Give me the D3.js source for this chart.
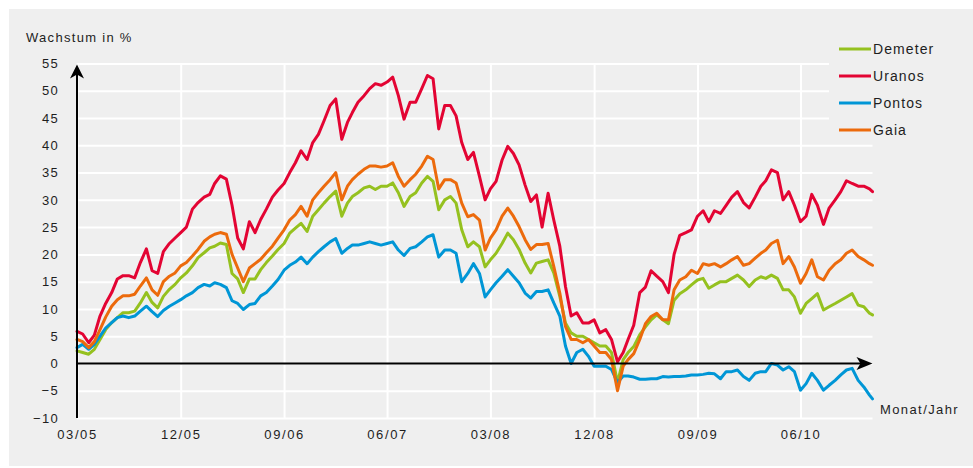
<!DOCTYPE html>
<html>
<head>
<meta charset="utf-8">
<script src="https://cdn.jsdelivr.net/npm/d3@7"></script>
<style>
  html, body { margin: 0; padding: 0; background: #ffffff; }
  svg { display: block; }
  text { font-family: "Liberation Sans", Arial, sans-serif; fill: #1e1e1e; }
</style>
</head>
<body>
<svg id="chart" width="973" height="468"></svg>
<script>
// ---- data ----
const dates = [
  "2005-03-01","2005-03-16","2005-04-01","2005-04-16","2005-05-01","2005-05-16","2005-06-01","2005-06-16","2005-07-01","2005-07-16",
  "2005-08-01","2005-08-16","2005-09-01","2005-09-16","2005-10-01","2005-10-16","2005-11-01","2005-11-16","2005-12-01","2005-12-16",
  "2006-01-01","2006-01-16","2006-02-01","2006-02-16","2006-03-01","2006-03-16","2006-04-01","2006-04-16","2006-05-01","2006-05-16","2006-06-01","2006-06-16",
  "2006-07-01","2006-07-16","2006-08-01","2006-08-16","2006-09-01","2006-09-16","2006-10-01","2006-10-16","2006-11-01","2006-11-16","2006-12-01","2006-12-16",
  "2007-01-01","2007-01-16","2007-02-01","2007-02-16","2007-03-01","2007-03-16","2007-04-01","2007-04-16","2007-05-01","2007-05-16","2007-06-01","2007-06-16",
  "2007-07-01","2007-07-16","2007-08-01","2007-08-16","2007-09-01","2007-09-16","2007-10-01","2007-10-16","2007-11-01","2007-11-16","2007-12-01","2007-12-16",
  "2008-01-01","2008-01-16","2008-02-01","2008-02-16","2008-03-01","2008-03-16","2008-04-01","2008-04-16","2008-05-01","2008-05-16","2008-06-01","2008-06-16",
  "2008-07-01","2008-07-16","2008-08-01","2008-08-16","2008-09-01","2008-09-16","2008-10-01","2008-10-16","2008-11-01","2008-11-16","2008-12-01","2008-12-16",
  "2009-01-01","2009-01-16","2009-02-01","2009-02-16","2009-03-01","2009-03-16","2009-04-01","2009-04-16","2009-05-01","2009-05-16","2009-06-01","2009-06-16",
  "2009-07-01","2009-07-16","2009-08-01","2009-08-16","2009-09-01","2009-09-16","2009-10-01","2009-10-16","2009-11-01","2009-11-16","2009-12-01","2009-12-16",
  "2010-01-01","2010-01-16","2010-02-01","2010-02-16","2010-03-01","2010-03-16","2010-04-01","2010-04-16","2010-05-01","2010-05-16","2010-06-01","2010-06-16",
  "2010-07-01","2010-07-16","2010-08-01","2010-08-16","2010-09-01","2010-09-16","2010-10-01","2010-10-16","2010-11-01","2010-11-16","2010-12-01","2010-12-09"
];

const demeter = [
  2.3, 2, 1.7, 2.6, 4.4, 6.2, 7.5, 8.4, 9.3, 9.3, 9.6, 11.1, 13, 11.2, 10.2, 12.3, 13.6, 14.5, 15.7, 16.6,
  17.9, 19.4, 20.3, 21.2, 21.5, 22.1, 21.8, 16.5, 15.5, 13, 15.5, 15.5, 17.2, 18.5, 19.7, 20.9, 22, 23.9, 24.8, 25.7, 24.2, 27, 28.2, 29.4,
  30.6, 31.6, 27, 29.4, 30.6, 31.3, 32.2, 32.5, 31.9, 32.5, 32.5, 33.1, 31.3, 28.8, 30.6, 31.3, 33.1, 34.3, 33.4, 28.2, 30, 30.6, 29.4, 24.5,
  21.4, 22.3, 21.4, 17.7, 19, 20.2, 22, 23.9, 22.7, 20.9, 18.4, 16.6, 18.4, 18.7, 19, 16.6, 12.3, 7.4, 5.6, 5, 5, 4.4, 3.8, 3.2,
  3.2, 2, -3.5, 0.7, 2, 3.1, 5.3, 6.7, 8, 8.9, 8, 7.3, 11.6, 12.8, 13.5, 14.4, 15.3, 15.6, 13.8, 14.4, 15, 15, 15.6, 16.2,
  15.3, 14.1, 15.3, 15.9, 15.6, 16.2, 15.6, 13.5, 13.5, 12.2, 9.2, 11, 11.9, 12.8, 9.8, 10.4, 11, 11.6, 12.2, 12.8, 10.7, 10.4, 9.2, 8.9
];

const uranos = [
  5.9, 5.4, 3.8, 5.2, 8.7, 11, 13, 15.5, 16.1, 16.1, 15.7, 18.5, 21, 17, 16.5, 20.5, 22, 23, 24, 25,
  28.3, 29.5, 30.5, 31, 33, 34.4, 33.8, 29, 23, 21, 26, 24, 26.4, 28.3, 30.5, 31.8, 33, 35, 36.8, 39, 37.4, 40.5, 42, 44.5,
  47.3, 48.5, 41.1, 44.2, 46, 47.9, 49.1, 50.4, 51.3, 51, 51.6, 52.5, 49.1, 44.8, 47.9, 47.9, 50.4, 52.8, 52.2, 43, 47.3, 47.3, 45.4, 40.5,
  37.4, 38.7, 34.3, 30, 32, 33.4, 37.3, 39.8, 38.5, 36.4, 32.7, 29.7, 30.9, 25, 31.2, 26.3, 21.5, 14.1, 8.7, 9.3, 7.4, 7.4, 8, 5.6,
  6.2, 4.4, 0.3, 2, 4.4, 7, 13, 14, 17, 16, 15, 13, 20, 23.5, 24, 24.5, 27, 28, 26, 28, 27.5, 29, 30.5, 31.5,
  29.5, 28.5, 30.5, 32.5, 33.5, 35.5, 35, 30, 31.5, 29, 26, 27, 31, 29, 25.5, 28.5, 30, 31.5, 33.5, 33, 32.5, 32.5, 32, 31.5
];

const pontos = [
  2.9, 3.5, 2.6, 3.5, 5, 6.5, 7.5, 8.4, 8.7, 8.4, 8.7, 9.6, 10.5, 9.5, 8.6, 9.7, 10.5, 11.1, 11.7, 12.4,
  13, 13.9, 14.5, 14.2, 14.8, 14.5, 13.9, 11.5, 11, 9.9, 10.8, 11, 12.4, 13, 14.2, 15.4, 17.1, 18, 18.6, 19.5, 18.3, 19.5, 20.5, 21.4,
  22.3, 22.9, 20.2, 21.1, 21.7, 21.7, 22, 22.3, 22, 21.7, 22, 22.3, 20.8, 19.8, 21.1, 21.4, 22.3, 23.2, 23.6, 19.5, 20.8, 20.8, 20.2, 15,
  16.5, 18.3, 16.5, 12.2, 13.5, 14.8, 16, 17.2, 16, 14.8, 12.9, 12, 13.2, 13.2, 13.5, 11.1, 8.7, 3.2, 0, 2, 2.6, 1.3, -0.5, -0.5,
  -0.5, -1.1, -3.5, -2.3, -2.3, -2.5, -2.9, -2.9, -2.8, -2.8, -2.4, -2.5, -2.4, -2.4, -2.3, -2.1, -2.1, -2, -1.8, -1.9, -2.8, -1.5, -1.5, -1.2,
  -2.4, -3.1, -1.8, -1.5, -1.5, 0, -0.3, -1.2, -0.6, -1.5, -4.9, -3.7, -1.8, -3.1, -4.9, -4, -3.1, -2.1, -1.2, -0.9, -3.1, -4.3, -5.8, -6.5
];

const gaia = [
  4.4, 4, 2.9, 4, 6.2, 8.5, 10.5, 11.7, 12.4, 12.4, 12.7, 14.2, 15.7, 13.5, 12.5, 15, 16, 16.6, 17.9, 18.5,
  19.7, 20.9, 22.4, 23.2, 23.7, 24, 23.7, 20, 17.5, 15, 17.5, 18.3, 19.1, 20.3, 21.5, 23, 24.5, 26.3, 27.3, 28.8, 27, 30, 31.3, 32.5,
  33.7, 35, 30, 32.5, 33.7, 34.7, 35.6, 36.2, 36.2, 36, 36.2, 36.8, 34.3, 32.5, 33.7, 34.7, 36.2, 38, 37.4, 32, 33.7, 33.7, 33.1, 29.4,
  26.9, 27.3, 26.3, 20.8, 23, 24.5, 27, 28.5, 27, 25.1, 22.7, 20.9, 21.8, 21.8, 22, 17.8, 12.9, 6.8, 4.4, 4.4, 3.8, 4.4, 3.2, 2,
  2, 0.7, -5, -0.5, 0.7, 1.8, 4.4, 7.3, 8.6, 9.2, 8, 8, 13.5, 15.3, 15.9, 17.1, 16.5, 18.3, 18, 18.3, 17.7, 18.3, 19, 19.6,
  18, 18.3, 19.3, 20.2, 20.8, 22, 22.6, 18.3, 19.6, 17.7, 14.7, 16.5, 19, 15.9, 15.3, 17.1, 18.3, 19, 20.2, 20.8, 19.6, 19, 18.3, 18
];

const seriesNames = ["Demeter", "Uranos", "Pontos", "Gaia"];
const seriesColors = ["#95c11f", "#e30433", "#0096d6", "#ec6a0c"];
const xTickDates = ["2005-03-01","2005-12-01","2006-09-01","2007-06-01","2008-03-01","2008-12-01","2009-09-01","2010-06-01"];
const xTickLabels = ["03/05","12/05","09/06","06/07","03/08","12/08","09/09","06/10"];
const yTicks = [-10,-5,0,5,10,15,20,25,30,35,40,45,50,55];
const yTitle = "Wachstum in %";
const xTitle = "Monat/Jahr";

// ---- chart ----
const parse = d3.timeParse("%Y-%m-%d");
const dateObjs = dates.map(parse);
const seriesValues = [demeter, uranos, pontos, gaia];

const svg = d3.select("#chart");
const X0 = 77, X1 = 872.5, YTOP = 63.5, YBOT = 418;

svg.append("rect").attr("x", 9).attr("y", 9).attr("width", 964).attr("height", 457).attr("fill", "#efefef");

const x = d3.scaleTime().domain([dateObjs[0], dateObjs[dateObjs.length - 1]]).range([X0, X1]);
const y = d3.scaleLinear().domain([-10, 55]).range([YBOT, YTOP]);

// grid horizontal
const gh = svg.append("g").attr("transform", `translate(${X0},0)`)
  .call(d3.axisLeft(y).tickValues(yTicks).tickSize(-(X1 - X0)).tickFormat(""));
gh.select(".domain").remove();
gh.selectAll("line").attr("stroke", "#ffffff").attr("stroke-width", 2);

// grid vertical
const gv = svg.append("g").attr("transform", `translate(0,${YBOT})`)
  .call(d3.axisBottom(x).tickValues(xTickDates.map(parse)).tickSize(-(YBOT - YTOP)).tickFormat(""));
gv.select(".domain").remove();
gv.selectAll("line").attr("stroke", "#ffffff").attr("stroke-width", 2);

// legend background (covers grid)
svg.append("rect").attr("x", 829).attr("y", 30).attr("width", 144).attr("height", 112).attr("fill", "#efefef");

// y labels
const yl = svg.append("g").attr("transform", `translate(${X0},0)`)
  .call(d3.axisLeft(y).tickValues(yTicks).tickSize(0).tickPadding(18));
yl.select(".domain").remove();
yl.selectAll("text").attr("font-size", 13).attr("letter-spacing", "1.3px")
  .attr("font-family", "'Liberation Sans', Arial, sans-serif").attr("fill", "#1e1e1e");

// x labels
const xl = svg.append("g").attr("transform", `translate(0,${YBOT})`)
  .call(d3.axisBottom(x).tickValues(xTickDates.map(parse)).tickSize(0).tickPadding(12)
    .tickFormat((d, i) => xTickLabels[i]));
xl.select(".domain").remove();
xl.selectAll("text").attr("font-size", 13).attr("letter-spacing", "1.6px")
  .attr("font-family", "'Liberation Sans', Arial, sans-serif").attr("fill", "#1e1e1e");

// lines
const line = d3.line().x((d, i) => x(dateObjs[i])).y(d => y(d)).curve(d3.curveLinear);
seriesValues.forEach((vals, k) => {
  svg.append("path").datum(vals).attr("d", line)
    .attr("fill", "none").attr("stroke", seriesColors[k]).attr("stroke-width", 3)
    .attr("stroke-linejoin", "round").attr("stroke-linecap", "round");
});

// axes lines with arrows
const y0 = y(0);
svg.append("line").attr("x1", X0).attr("x2", X1 - 6).attr("y1", y0).attr("y2", y0)
  .attr("stroke", "#000").attr("stroke-width", 2);
svg.append("path")
  .attr("d", `M${X1},${y0} L${X1 - 16},${y0 - 6.5} L${X1 - 12},${y0} L${X1 - 16},${y0 + 6.5} Z`)
  .attr("fill", "#000");
svg.append("line").attr("x1", X0).attr("x2", X0).attr("y1", YBOT).attr("y2", YTOP + 6)
  .attr("stroke", "#000").attr("stroke-width", 2);
svg.append("path")
  .attr("d", `M${X0},${YTOP + 1} L${X0 - 7},${YTOP + 15} L${X0},${YTOP + 11} L${X0 + 7},${YTOP + 15} Z`)
  .attr("fill", "#000");

// titles
svg.append("text").attr("x", 26).attr("y", 42).attr("font-size", 13).attr("letter-spacing", "1.3px").text(yTitle);
svg.append("text").attr("x", 880).attr("y", 414).attr("font-size", 13).attr("letter-spacing", "1.4px").text(xTitle);

// legend
const lg = svg.append("g");
seriesNames.forEach((n, k) => {
  const yy = 49 + k * 27;
  lg.append("line").attr("x1", 839).attr("x2", 871).attr("y1", yy).attr("y2", yy)
    .attr("stroke", seriesColors[k]).attr("stroke-width", 3);
  lg.append("text").attr("x", 873).attr("y", yy + 5).attr("font-size", 14).attr("letter-spacing", "1.1px").text(n);
});
</script>
</body>
</html>
